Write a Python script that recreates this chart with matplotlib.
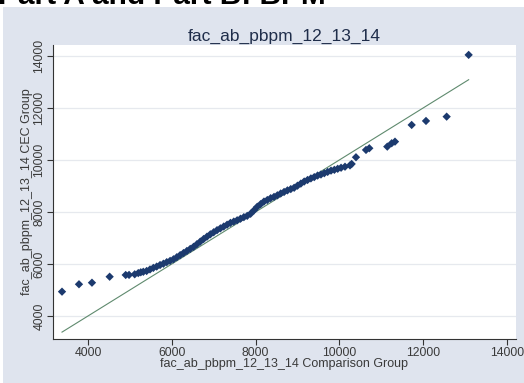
import matplotlib.pyplot as plt
from matplotlib.patches import Rectangle

# quantiles: comparison group (x) vs CEC group (y)
comp_q = [3380, 3785, 4095, 4517, 4900, 4980, 5115, 5200, 5260, 5320,
          5400, 5480, 5560, 5640, 5720, 5800, 5880, 5960, 6040, 6120,
          6200, 6280, 6360, 6440, 6520, 6600, 6680, 6760, 6840, 6920,
          7000, 7080, 7160, 7240, 7320, 7400, 7480, 7560, 7640, 7720,
          7800, 7880, 7960, 8040, 8120, 8200, 8280, 8360, 8440, 8520,
          8600, 8680, 8760, 8840, 8920, 9000, 9080, 9160, 9240, 9320,
          9400, 9480, 9560, 9640, 9720, 9800, 9880, 9960, 10040, 10134,
          10253, 10293, 10396, 10635, 10714, 11143, 11248, 11327, 11725, 12067,
          12560, 13085]
cec_q = [4935, 5220, 5280, 5510, 5577, 5580, 5603, 5650, 5680, 5700,
         5730, 5790, 5850, 5900, 5960, 6010, 6070, 6120, 6180, 6260,
         6340, 6420, 6500, 6580, 6660, 6760, 6860, 6960, 7050, 7140,
         7220, 7300, 7370, 7440, 7510, 7580, 7630, 7680, 7740, 7800,
         7850, 7930, 8060, 8200, 8300, 8400, 8460, 8530, 8580, 8640,
         8710, 8770, 8830, 8880, 8930, 9010, 9090, 9170, 9230, 9290,
         9340, 9400, 9440, 9490, 9540, 9590, 9620, 9660, 9700, 9740,
         9790, 9846, 10104, 10385, 10450, 10512, 10642, 10704, 11346, 11500,
         11665, 14040]

ticks = [4000, 6000, 8000, 10000, 12000, 14000]
var_name = "fac_ab_pbpm_12_13_14"

plt.rcParams['font.family'] = ['Liberation Sans', 'DejaVu Sans']

fig = plt.figure(figsize=(5.24, 3.83), dpi=100)
fig.patch.set_facecolor('white')

# graph region background
fig.add_artist(Rectangle((0.005, 0), 0.995, 1 - 7 / 383, transform=fig.transFigure,
                         facecolor='#dfe4ee', edgecolor='none', zorder=0))

# slide heading, clipped by the top edge
fig.text(-0.004, 1 - 4.5 / 383, "Part A and Part B: BPM", fontsize=21.5,
         fontweight='bold', color='black', va='baseline', ha='left')

ax = fig.add_axes([53 / 524, 1 - 339 / 383, 463 / 524, 294 / 383])
ax.set_facecolor('white')

# 45-degree reference line over the range of the comparison group
lo, hi = min(comp_q), max(comp_q)
ax.plot([lo, hi], [lo, hi], color='#5f8a6e', linewidth=0.8, zorder=2)
ax.scatter(comp_q, cec_q, marker='D', s=18, color='#1c3a6e', edgecolors='none', zorder=3)

ax.set_xlim(3165, 14215)
ax.set_ylim(3115, 14420)
ax.set_xticks(ticks)
ax.set_yticks(ticks)
ax.set_xticklabels([str(t) for t in ticks])
ax.set_yticklabels([str(t) for t in ticks], rotation=90, va='center')
ax.grid(axis='y', color='#e6e9ee', linewidth=0.9)
ax.set_axisbelow(True)

for side in ['top', 'right']:
    ax.spines[side].set_visible(False)
for side in ['left', 'bottom']:
    ax.spines[side].set_color('#333333')
    ax.spines[side].set_linewidth(0.8)
ax.tick_params(colors='#333333', labelsize=8.8, length=4, width=0.8, pad=2)
ax.tick_params(axis='y', pad=1.5)
ax.tick_params(axis='both', labelcolor='#3a3a3a')

ax.set_xlabel(var_name + " Comparison Group", fontsize=9, color='#3a3a3a', labelpad=-1)
ax.set_ylabel(var_name + " CEC Group", fontsize=9, color='#3a3a3a', labelpad=0.5)
ax.set_title(var_name, fontsize=12.5, color='#1f2d4a', pad=3)

fig.savefig('out.png', dpi=100)
